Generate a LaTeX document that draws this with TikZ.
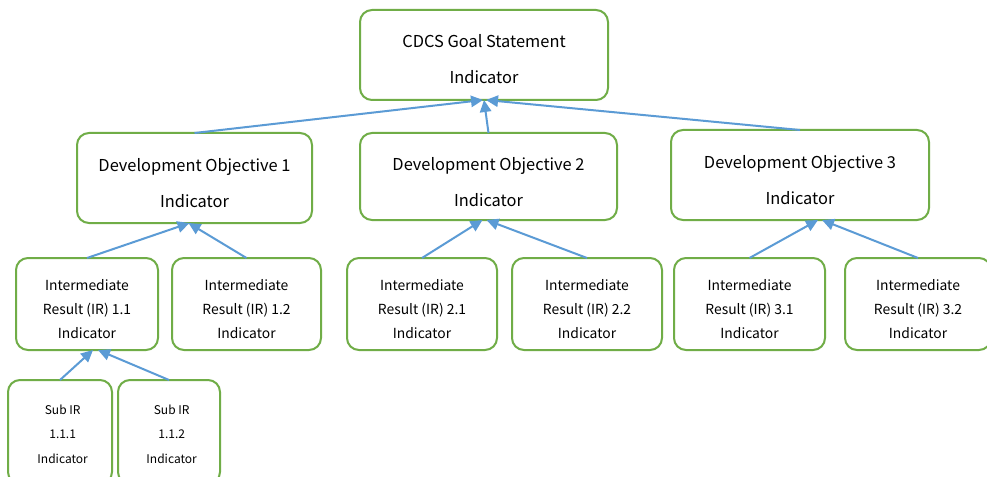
\documentclass[tikz,border=0pt]{standalone}
\usepackage{fontspec}
\setmainfont{Noto Sans CJK JP}
\usetikzlibrary{arrows.meta}
\definecolor{boxgreen}{HTML}{70AD47}
\definecolor{linkblue}{HTML}{5B9BD5}
\tikzset{
  box/.style={draw=boxgreen, line width=1.5pt, rounded corners=9pt, fill=white,
    inner sep=0pt, outer sep=0pt},
  caption/.style={align=center, text=black, inner sep=0pt},
  bigtext/.style={caption, font=\fontsize{12.3}{27}\selectfont},
  irtext/.style={caption, font=\fontsize{10.4}{18}\selectfont},
  subtext/.style={caption, font=\fontsize{9}{18.4}\selectfont},
  link/.style={draw=linkblue, line width=1.5pt, -{Triangle[length=9pt,width=8.5pt]}},
}
\begin{document}
\begin{tikzpicture}[x=0.75pt, y=-0.75pt]
\useasboundingbox (0,0) rectangle (987,477);
\fill[white] (0,0) rectangle (987,477);

% goal
\node[box, minimum width=186pt, minimum height=67.5pt,
  label={[bigtext, yshift=-3pt]center:{CDCS Goal Statement\\Indicator}}] (goal) at (484,55) {};

% development objectives
\node[box, minimum width=176.25pt, minimum height=67.5pt,
  label={[bigtext, yshift=-3.5pt]center:{Development Objective 1\\Indicator}}] (do1) at (194.5,178) {};
\node[box, minimum width=192.75pt, minimum height=65.25pt,
  label={[bigtext, yshift=-4.5pt]center:{Development Objective 2\\Indicator}}] (do2) at (488.5,176.5) {};
\node[box, minimum width=193.5pt, minimum height=67.5pt,
  label={[bigtext, yshift=-3.5pt]center:{Development Objective 3\\Indicator}}] (do3) at (800,175) {};

% intermediate results
\node[box, minimum width=106.5pt, minimum height=69pt,
  label={[irtext, yshift=-3.5pt]center:{Intermediate\\Result (IR) 1.1\\Indicator}}] (ir11) at (87,304) {};
\node[box, minimum width=111.75pt, minimum height=69pt,
  label={[irtext, yshift=-3.5pt]center:{Intermediate\\Result (IR) 1.2\\Indicator}}] (ir12) at (246.5,304) {};
\node[box, minimum width=112.5pt, minimum height=69pt,
  label={[irtext, yshift=-3.5pt]center:{Intermediate\\Result (IR) 2.1\\Indicator}}] (ir21) at (422,304) {};
\node[box, minimum width=112.5pt, minimum height=69pt,
  label={[irtext, yshift=-3.5pt]center:{Intermediate\\Result (IR) 2.2\\Indicator}}] (ir22) at (587,304) {};
\node[box, minimum width=113.25pt, minimum height=69pt,
  label={[irtext, yshift=-3.5pt]center:{Intermediate\\Result (IR) 3.1\\Indicator}}] (ir31) at (749.5,304) {};
\node[box, minimum width=109.5pt, minimum height=69pt,
  label={[irtext, yshift=-3.5pt]center:{Intermediate\\Result (IR) 3.2\\Indicator}}] (ir32) at (918,304) {};

% sub intermediate results
\node[box, minimum width=78pt, minimum height=78pt,
  label={[subtext, yshift=-1.5pt, xshift=2pt]center:{Sub IR\\1.1.1\\Indicator}}] (sub1) at (60,432) {};
\node[box, minimum width=76.5pt, minimum height=78pt,
  label={[subtext, yshift=-1.5pt, xshift=2pt]center:{Sub IR\\1.1.2\\Indicator}}] (sub2) at (169,432) {};

% links from child to parent
\draw[link] (do1.north) -- ([xshift=-0.75pt]goal.south);
\draw[link] (do2.north) -- (goal.south);
\draw[link] (do3.north) -- ([xshift=1.5pt]goal.south);

\draw[link] (ir11.north) -- ([xshift=-3.75pt]do1.south);
\draw[link] (ir12.north) -- ([xshift=-4.5pt]do1.south);
\draw[link] (ir21.north) -- ([xshift=-4.5pt]do2.south);
\draw[link] (ir22.north) -- ([xshift=-1.5pt]do2.south);
\draw[link] (ir31.north) -- ([xshift=13.5pt]do3.south);
\draw[link] (ir32.north) -- ([xshift=16.5pt]do3.south);

\draw[link] (sub1.north) -- ([xshift=4.5pt]ir11.south);
\draw[link] (sub2.north) -- ([xshift=8.25pt]ir11.south);
\end{tikzpicture}
\end{document}
